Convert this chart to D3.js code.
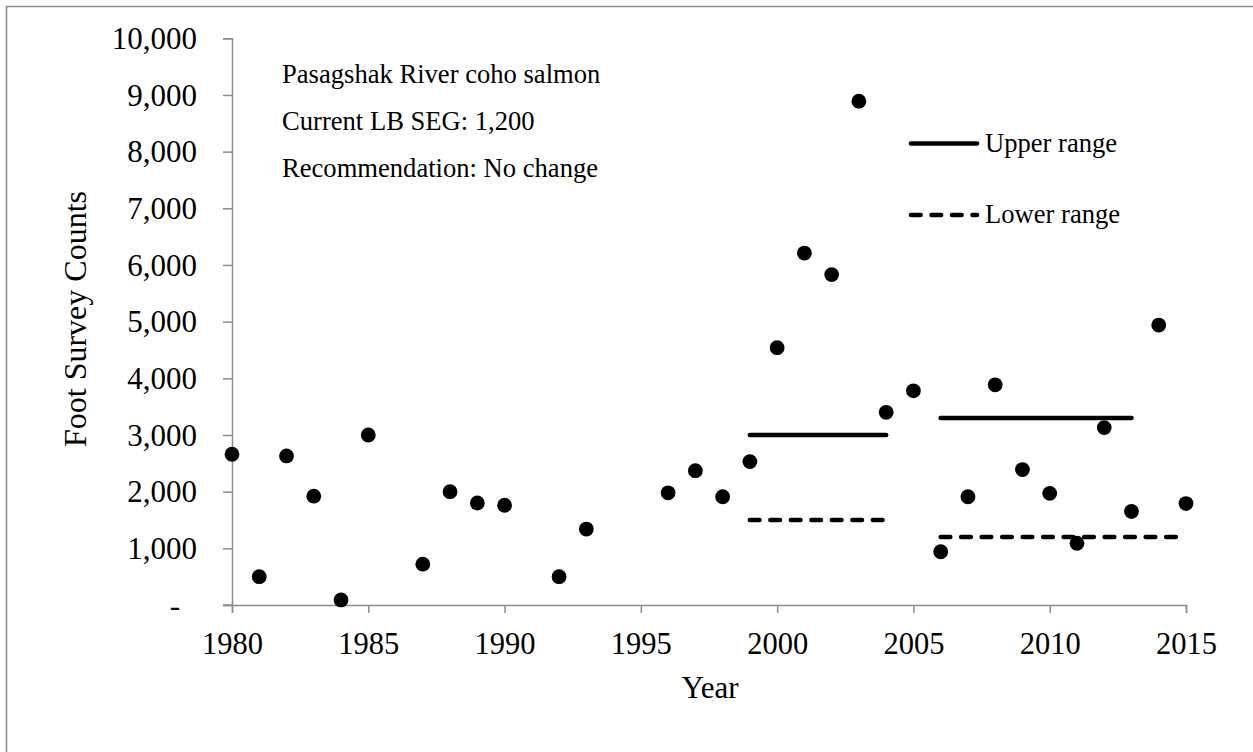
<!DOCTYPE html>
<html><head><meta charset="utf-8">
<script src="https://cdn.jsdelivr.net/npm/d3@7"></script>
<style>
body{margin:0;background:#fff;}
svg{display:block;font-family:"Liberation Serif","Times New Roman",serif;}
</style></head>
<body><svg id="c" width="1253" height="752"></svg>
<script>
const years = [1980,1981,1982,1983,1984,1985,1987,1988,1989,1990,1992,1993,1996,1997,1998,1999,2000,2001,2002,2003,2004,2005,2006,2007,2008,2009,2010,2011,2012,2013,2014,2015];
const counts = [2660,500,2630,1920,90,3000,720,2000,1800,1760,500,1340,1980,2370,1910,2530,4540,6210,5830,8890,3400,3780,940,1910,3885,2390,1970,1090,3130,1650,4940,1790];
const upperRange = [{start:1999,end:2004,value:3000},{start:2006,end:2013,value:3300}];
const lowerRange = [{start:1999,end:2004,value:1500},{start:2006,end:2015,value:1200}];
const yTicks = [0,1000,2000,3000,4000,5000,6000,7000,8000,9000,10000];
const xTicks = [1980,1985,1990,1995,2000,2005,2010,2015];
const notes = ["Pasagshak River coho salmon","Current LB SEG: 1,200","Recommendation: No change"];
const legendLabels = ["Upper range","Lower range"];

const svg = d3.select("#c");
svg.append("rect").attr("x",6.5).attr("y",6.5).attr("width",1300).attr("height",800)
  .attr("fill","none").attr("stroke","#8a8a8a").attr("stroke-width",1.5);

const x = d3.scaleLinear().domain([1980,2015]).range([232,1186]);
const y = d3.scaleLinear().domain([0,10000]).range([605,38.3]);
const axisColor = "#8c8c8c";

const yAxis = svg.append("g").attr("transform","translate(232,0)")
  .call(d3.axisLeft(y).tickValues(yTicks).tickSize(9).tickPadding(26)
    .tickFormat(d => d===0 ? "-" : d3.format(",")(d)));
yAxis.selectAll("text").attr("font-size",31).attr("font-family","Liberation Serif").attr("fill","#000").attr("dy","0.33em")
  .attr("dx", d => d===0 ? -17 : 0);

const xAxis = svg.append("g").attr("transform","translate(0,605)")
  .call(d3.axisBottom(x).tickValues(xTicks).tickSize(8).tickPadding(19).tickFormat(d3.format("d")));
xAxis.selectAll("text").attr("font-size",30.5).attr("font-family","Liberation Serif").attr("fill","#000");

[yAxis,xAxis].forEach(g=>{
  g.select(".domain").attr("stroke",axisColor).attr("stroke-width",1.5);
  g.selectAll(".tick line").attr("stroke",axisColor).attr("stroke-width",1.5);
});
svg.append("line").attr("x1",223).attr("x2",232).attr("y1",605).attr("y2",605).attr("stroke",axisColor).attr("stroke-width",1.5);

svg.append("text").attr("x",710).attr("y",698).attr("text-anchor","middle").attr("font-size",31).text("Year");
svg.append("text").attr("transform","translate(86,319) rotate(-90)").attr("text-anchor","middle").attr("font-size",32).text("Foot Survey Counts");

const lw = 4.6;
svg.append("g").selectAll("line").data(upperRange).join("line")
  .attr("x1",d=>x(d.start)).attr("x2",d=>x(d.end)).attr("y1",d=>y(d.value)).attr("y2",d=>y(d.value))
  .attr("stroke","#000").attr("stroke-width",lw).attr("stroke-linecap","round");
svg.append("g").selectAll("line").data(lowerRange).join("line")
  .attr("x1",d=>x(d.start)).attr("x2",d=>x(d.end)).attr("y1",d=>y(d.value)).attr("y2",d=>y(d.value))
  .attr("stroke","#000").attr("stroke-width",lw).attr("stroke-linecap","round").attr("stroke-dasharray","9.6,10.9");

svg.append("g").selectAll("circle").data(years).join("circle")
  .attr("cx",(d)=>x(d)).attr("cy",(d,i)=>y(counts[i])).attr("r",7.4).attr("fill","#000");

svg.append("g").selectAll("text").data(notes).join("text")
  .attr("x",282).attr("y",(d,i)=>83.3+i*46.7).attr("font-size",26.6).text(d=>d);

const leg = svg.append("g");
leg.append("line").attr("x1",911).attr("x2",977).attr("y1",143.5).attr("y2",143.5)
  .attr("stroke","#000").attr("stroke-width",lw).attr("stroke-linecap","round");
leg.append("line").attr("x1",911).attr("x2",977).attr("y1",215).attr("y2",215)
  .attr("stroke","#000").attr("stroke-width",lw).attr("stroke-linecap","round").attr("stroke-dasharray","9.6,10.9");
leg.selectAll("text").data(legendLabels).join("text")
  .attr("x",985).attr("y",(d,i)=>152+i*71).attr("font-size",26.6).text(d=>d);
</script></body></html>
